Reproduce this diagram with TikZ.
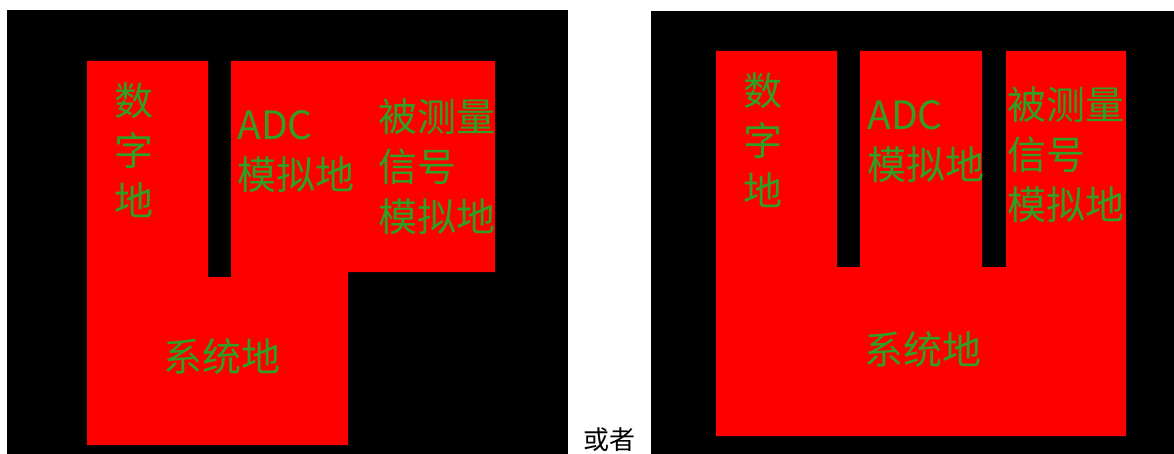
\documentclass[tikz,border=0pt]{standalone}
\usepackage{fontspec}
\newfontfamily\cjk{Noto Sans CJK SC}
\definecolor{gndgreen}{RGB}{46,160,36}
\usetikzlibrary{positioning}

\begin{document}
\begin{tikzpicture}[x=1pt, y=-1pt, thick]
        \tikzstyle{board} = [fill=black]
        \tikzstyle{plane} = [fill=red]
        \tikzstyle{lbl} = [inner sep=0pt, text=gndgreen, font=\cjk\fontsize{39}{50}\selectfont, align=left]

        \useasboundingbox (0,0) rectangle (1174,454);

        % left layout
        \fill [board] (7,10) rectangle (568,454);
        \fill [plane] (87,61) -- (208,61) -- (208,277) -- (231,277) -- (231,61) -- (495,61)
                -- (495,272) -- (348,272) -- (348,445) -- (87,445) -- cycle;

        \node [lbl, align=center] (digA) at (134,150) {数\\字\\地};
        \node [lbl, anchor=west] (adcA) at (237,152) {ADC\\模拟地};
        \node [lbl, anchor=west] (sigA) at (378,167) {被测量\\信号\\模拟地};
        \node [lbl] (sysA) at (222,357) {系统地};

        % or
        \node [inner sep=0pt, anchor=south west, font=\cjk\fontsize{26}{30}\selectfont] (orText) at (583,452) {或者};

        % right layout
        \fill [board] (651,11) rectangle (1174,454);
        \fill [plane] (716,51) -- (837,51) -- (837,267) -- (860,267) -- (860,51) -- (982,51)
                -- (982,267) -- (1006,267) -- (1006,51) -- (1126,51) -- (1126,436) -- (716,436) -- cycle;

        \node [lbl, align=center] (digB) at (763,140) {数\\字\\地};
        \node [lbl, anchor=west] (adcB) at (867,142) {ADC\\模拟地};
        \node [lbl, anchor=west] (sigB) at (1007,155) {被测量\\信号\\模拟地};
        \node [lbl] (sysB) at (923,350) {系统地};
    \end{tikzpicture}
\end{document}
